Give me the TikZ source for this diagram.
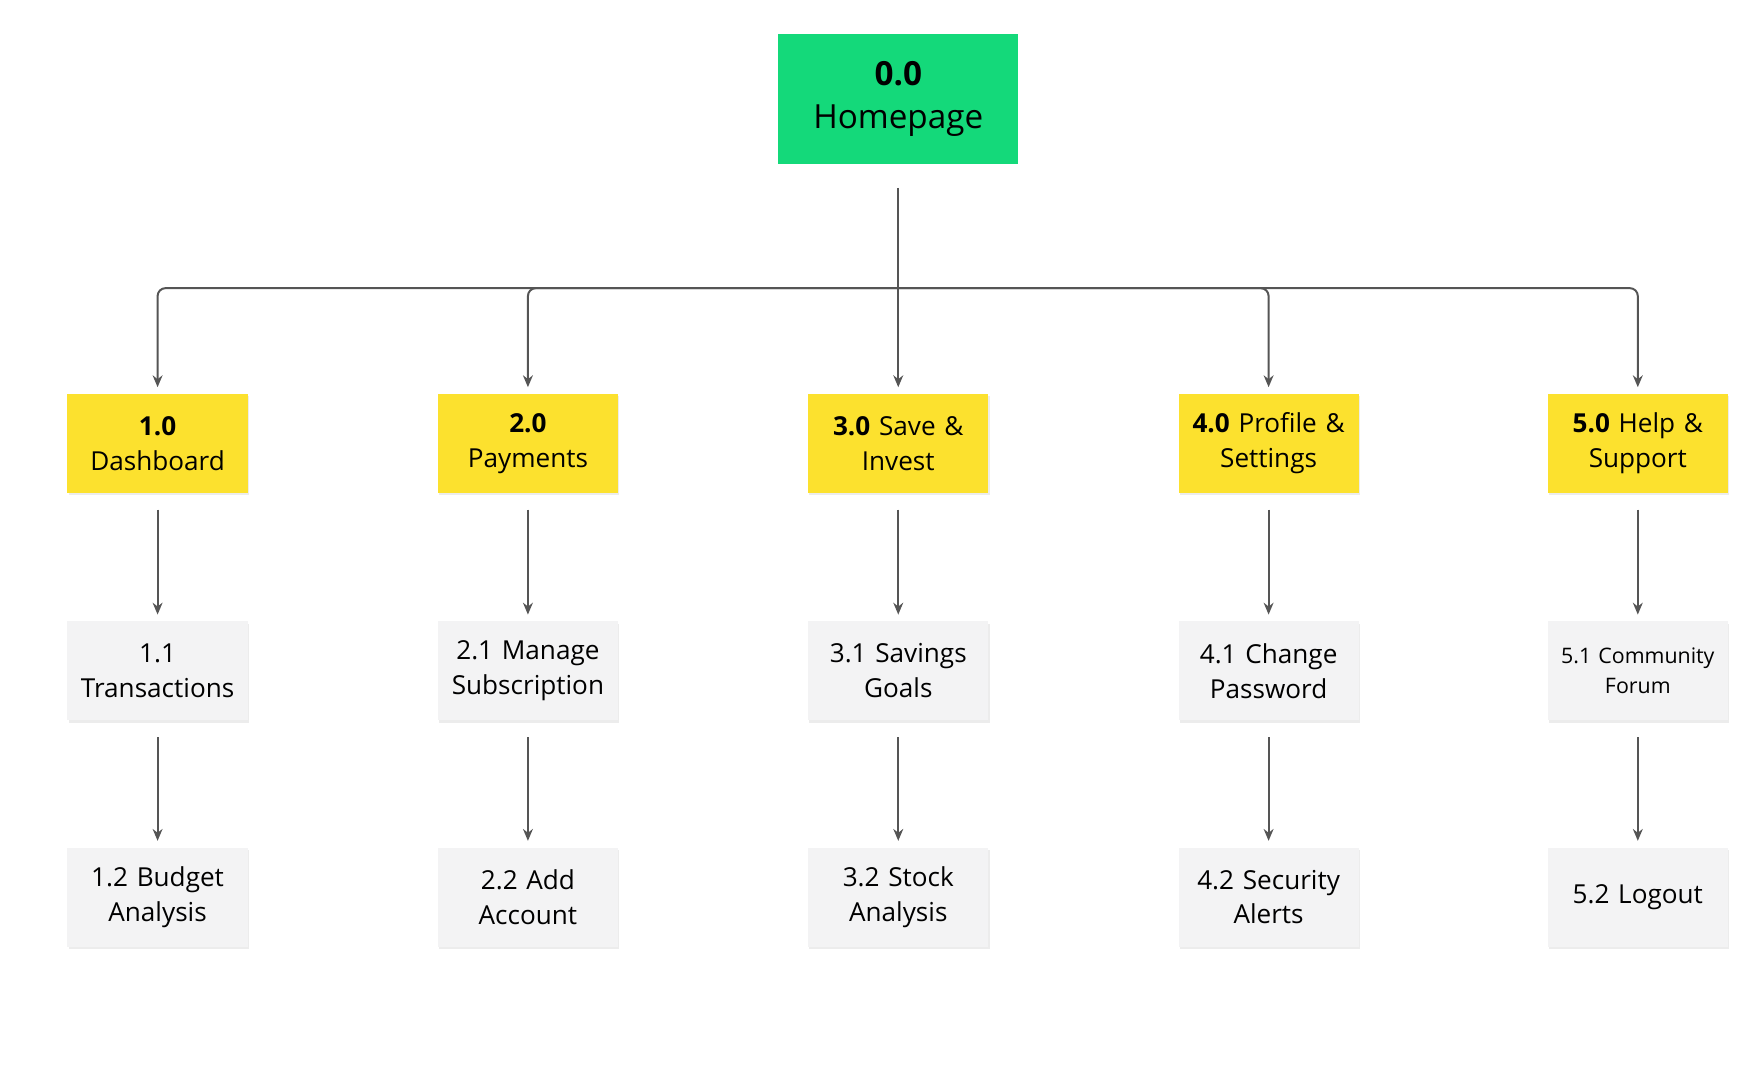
\documentclass[tikz,border=0pt]{standalone}
\usepackage{fontspec}
\setmainfont{Open Sans}
\usetikzlibrary{shadows, arrows.meta}
\definecolor{hpgreen}{HTML}{14D97A}
\definecolor{secyellow}{HTML}{FCE12E}
\definecolor{pagegray}{HTML}{F3F3F4}
\definecolor{linegray}{HTML}{555555}
\begin{document}
\begin{tikzpicture}[x=0.01cm, y=-0.01cm,
    every node/.style={align=center, inner sep=0pt, text width=1.5cm, minimum width=1.6cm, minimum height=0.88cm, font=\fontsize{6.6}{8.8}\selectfont},
    home/.style={fill=hpgreen, minimum width=2.13cm, minimum height=1.16cm, text width=2cm, font=\fontsize{8.4}{11}\selectfont},
    section/.style={fill=secyellow, drop shadow={shadow xshift=0.3pt, shadow yshift=-0.6pt, opacity=0.15}},
    page/.style={fill=pagegray, drop shadow={shadow xshift=0.3pt, shadow yshift=-0.6pt, opacity=0.15}},
    link/.style={linegray, line width=0.5pt, -{Stealth[length=3pt, width=2.5pt]}}
]
\useasboundingbox (0,0) rectangle (1560,968);

% top
\node[home] (hp) at (798,88) {\textbf{0.0}\\Homepage};
\coordinate (stem) at (798,167);
\coordinate (bus) at (798,256);

% sections
\node[section] (s1) at (140,394) {\textbf{1.0}\\Dashboard};
\node[section] (s2) at (469,394) {\textbf{2.0}\\Payments};
\node[section] (s3) at (798,394) {\textbf{3.0} Save \&\\Invest};
\node[section] (s4) at (1127,394) {\textbf{4.0} Profile \&\\Settings};
\node[section] (s5) at (1455,394) {\textbf{5.0} Help \&\\Support};

% pages
\node[page] (a1) at (140,596) {1.1\\Transactions};
\node[page] (a2) at (469,596) {2.1 Manage\\Subscription};
\node[page] (a3) at (798,596) {3.1 Savings\\Goals};
\node[page] (a4) at (1127,596) {4.1 Change\\Password};
\node[page, font=\fontsize{5.4}{7.4}\selectfont] (a5) at (1455,596) {5.1 Community\\Forum};

\node[page] (b1) at (140,797) {1.2 Budget\\Analysis};
\node[page] (b2) at (469,797) {2.2 Add\\Account};
\node[page] (b3) at (798,797) {3.2 Stock\\Analysis};
\node[page] (b4) at (1127,797) {4.2 Security\\Alerts};
\node[page] (b5) at (1455,797) {5.2 Logout};

\draw[linegray, line width=0.5pt] (stem) -- (bus);
\foreach \i in {1,...,5} {
  \draw[link, rounded corners=2pt] (bus) -| ([yshift=1.5pt]s\i.north);
  \draw[link] ([yshift=-4pt]s\i.south) -- ([yshift=1.5pt]a\i.north);
  \draw[link] ([yshift=-4pt]a\i.south) -- ([yshift=1.5pt]b\i.north);
}
\end{tikzpicture}
\end{document}
